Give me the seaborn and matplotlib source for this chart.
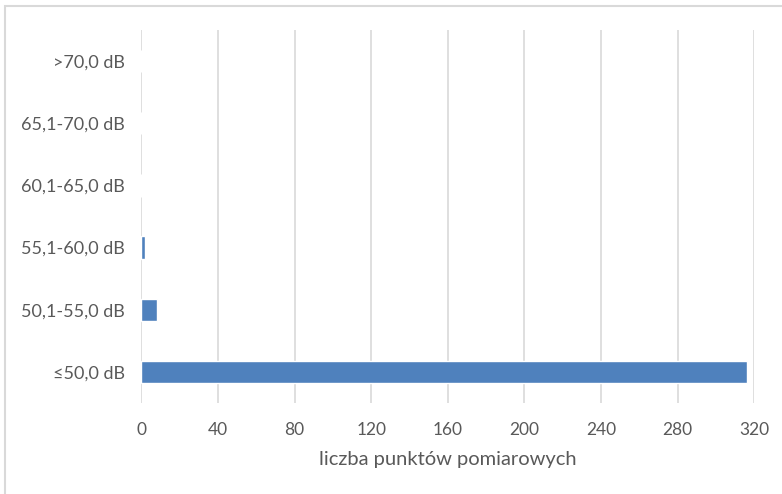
import matplotlib
matplotlib.use("Agg")
import matplotlib.pyplot as plt
import seaborn as sns
import pandas as pd
from matplotlib.patches import Rectangle

categories = [">70,0 dB", "65,1-70,0 dB", "60,1-65,0 dB", "55,1-60,0 dB", "50,1-55,0 dB", "≤50,0 dB"]
values = [0, 0, 0, 2, 8, 316]
x_ticks = [0, 40, 80, 120, 160, 200, 240, 280, 320]
x_label = "liczba punktów pomiarowych"

sns.set_style("white")
plt.rcParams['font.family'] = ['Lato', 'DejaVu Sans']

df = pd.DataFrame({"cat": categories, "val": values})

fig = plt.figure(figsize=(7.82, 4.94), dpi=100)
ax = fig.add_axes([141.3/782, 1-403/494, (754.3-141.3)/782, (403-30)/494])

sns.barplot(data=df, x="val", y="cat", order=categories, color="#4f81bd",
            saturation=1, width=0.36, ax=ax, orient="h")

ax.set_xlim(0, 320)
ax.set_xticks(x_ticks)
ax.set_xticklabels([str(t) for t in x_ticks])
ax.grid(axis="x", color="#d9d9d9", linewidth=1.2)
ax.set_axisbelow(True)
for s in ax.spines.values():
    s.set_visible(False)
ax.tick_params(axis="x", length=0, pad=14, labelsize=12.5, labelcolor="#595959")
ax.tick_params(axis="y", length=0, pad=12, labelsize=13, labelcolor="#595959")
ax.set_ylabel("")
ax.set_xlabel(x_label, fontsize=14.5, color="#595959", labelpad=9)

fig.patches.append(Rectangle((5/782, -0.1), 1.2, 1 - 6/494 + 0.1, transform=fig.transFigure,
                             fill=False, edgecolor="#d9d9d9", linewidth=1.5))

fig.savefig("out.png", dpi=100)
